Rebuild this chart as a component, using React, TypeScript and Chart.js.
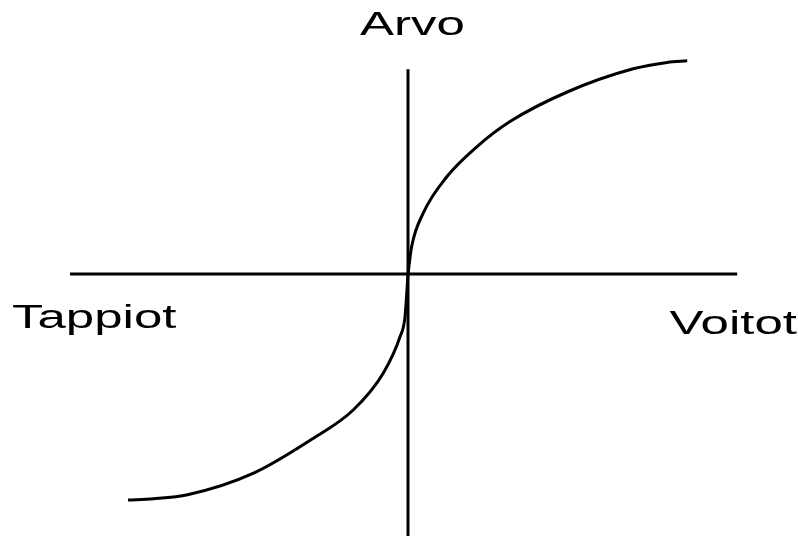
import React, { useEffect, useRef } from "react";
import { Chart, registerables } from "chart.js";

Chart.register(...registerables);

// Value function (prospect theory): gains and losses, in chart units
const gainX = [0, 0.09, 0.38, 0.97, 1.72, 2.55, 3.98, 5.63, 6.48, 6.98];
const gainY = [0, 0.68, 1.52, 2.43, 3.18, 3.81, 4.55, 5.13, 5.29, 5.33];
const lossX = [-7.0, -6.36, -5.51, -3.86, -2.37, -1.37, -0.62, -0.2, -0.075, 0];
const lossY = [-5.65, -5.62, -5.52, -4.98, -4.11, -3.4, -2.48, -1.57, -1.07, 0];

// Axis extents
const hAxisX = [-8.45, 8.23];
const vAxisY = [5.12, -6.6];

// Labels
const yTitle = "Arvo";
const lossLabel = "Tappiot";
const gainLabel = "Voitot";

const W = 798;
const H = 536;
const UNIT = 40; // pixels per unit
const ORIGIN_X = 408;
const ORIGIN_Y = 274;

const labelPlugin = {
  id: "stretchedLabels",
  afterDraw(chart: any) {
    const ctx = chart.ctx as CanvasRenderingContext2D;
    const sx = 1.5;
    const items: { t: string; x: number; y: number; align: CanvasTextAlign }[] = [
      { t: yTitle, x: 412.5, y: 35, align: "center" },
      { t: lossLabel, x: 12, y: 328, align: "left" },
      { t: gainLabel, x: 797, y: 334, align: "right" },
    ];
    ctx.save();
    ctx.fillStyle = "#000";
    ctx.font = "34px 'Liberation Sans', Arial, sans-serif";
    ctx.textBaseline = "alphabetic";
    for (const it of items) {
      ctx.save();
      ctx.translate(it.x, it.y);
      ctx.scale(sx, 1);
      ctx.textAlign = it.align;
      ctx.fillText(it.t, 0, 0);
      ctx.restore();
    }
    ctx.restore();
  },
};

export default function App() {
  const ref = useRef<HTMLCanvasElement | null>(null);

  useEffect(() => {
    document.body.style.margin = "0";
    if (!ref.current) return;
    const pts = (xs: number[], ys: number[]) => xs.map((x, i) => ({ x, y: ys[i] }));
    const chart = new Chart(ref.current, {
      type: "scatter",
      data: {
        datasets: [
          {
            data: pts(hAxisX, [0, 0]),
            showLine: true,
            borderColor: "#000",
            borderWidth: 3,
            pointRadius: 0,
          },
          {
            data: pts([0, 0], vAxisY),
            showLine: true,
            borderColor: "#000",
            borderWidth: 3,
            pointRadius: 0,
          },
          {
            data: pts(gainX, gainY),
            showLine: true,
            borderColor: "#000",
            borderWidth: 3,
            pointRadius: 0,
            cubicInterpolationMode: "monotone",
          },
          {
            data: pts(lossX, lossY),
            showLine: true,
            borderColor: "#000",
            borderWidth: 3,
            pointRadius: 0,
            cubicInterpolationMode: "monotone",
          },
        ],
      },
      options: {
        animation: false,
        responsive: false,
        layout: { padding: 0 },
        plugins: { legend: { display: false }, tooltip: { enabled: false }, title: { display: false } },
        scales: {
          x: { type: "linear", display: false, min: -ORIGIN_X / UNIT, max: (W - ORIGIN_X) / UNIT },
          y: { type: "linear", display: false, min: -(H - ORIGIN_Y) / UNIT, max: ORIGIN_Y / UNIT },
        },
      },
      plugins: [labelPlugin],
    });
    return () => chart.destroy();
  }, []);

  return (
    <div style={{ position: "fixed", left: 0, top: 0, width: W, height: H, background: "#fff" }}>
      <canvas ref={ref} width={W} height={H} style={{ width: W, height: H, display: "block" }} />
    </div>
  );
}
